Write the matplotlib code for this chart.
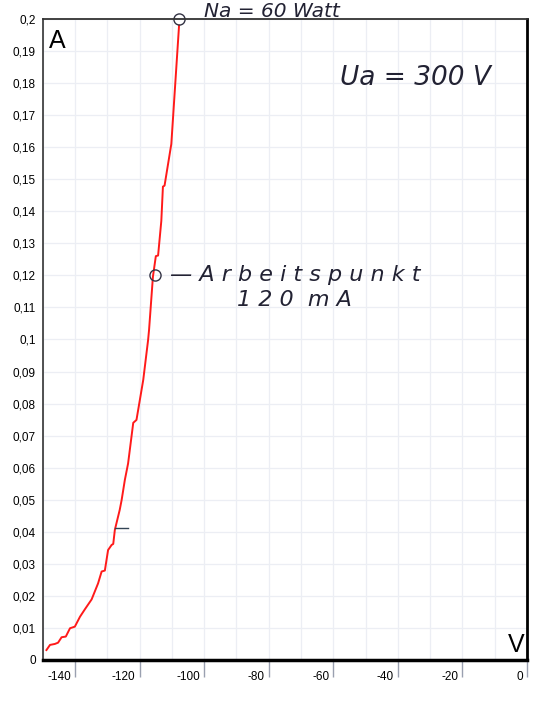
import matplotlib
matplotlib.use("Agg")
import matplotlib.pyplot as plt
import matplotlib.transforms as mtrans
from matplotlib.ticker import MultipleLocator, FuncFormatter

# Data (grid voltage V, anode current A)
voltage = [-148.9, -147.8, -146.3, -145.3, -144.2, -142.9, -141.6, -140.1, -138.5,
           -137.0, -134.9, -132.9, -131.8, -130.8, -129.8, -128.7, -128.2, -127.7,
           -126.2, -125.6, -124.6, -123.6, -122.0, -121.0, -118.9, -117.4, -117.1,
           -115.9, -115.0, -114.3, -113.3, -112.8, -112.3, -110.2, -107.8]
current = [0.0031, 0.0047, 0.0050, 0.0054, 0.0071, 0.0073, 0.0099, 0.0104, 0.0135,
           0.0158, 0.0189, 0.0239, 0.0276, 0.0279, 0.0343, 0.0359, 0.0362, 0.0406,
           0.0468, 0.0499, 0.0562, 0.0613, 0.0740, 0.0749, 0.0874, 0.0998, 0.1030,
           0.1196, 0.1260, 0.1262, 0.1370, 0.1477, 0.1480, 0.1610, 0.1980]
marker_v = [-107.9, -115.3]
marker_i = [0.200, 0.120]
x_ticks = [-140, -120, -100, -80, -60, -40, -20, 0]

plt.rcParams['font.family'] = ['Liberation Sans', 'DejaVu Sans']

fig = plt.figure(figsize=(5.5, 7.03), dpi=100)
ax = fig.add_axes([0.078, 0.0612, 0.880, 0.9118])
ax.set_xlim(-150, 0)
ax.set_ylim(0, 0.2)

ax.xaxis.set_major_locator(MultipleLocator(20))
ax.xaxis.set_minor_locator(MultipleLocator(10))
ax.yaxis.set_major_locator(MultipleLocator(0.01))
ax.grid(which='both', color='#eceef4', linewidth=0.9)
ax.set_axisbelow(True)

ax.set_xticks(x_ticks)
ax.xaxis.set_major_formatter(FuncFormatter(lambda v, p: f"{int(v)}"))
ax.yaxis.set_major_formatter(FuncFormatter(
    lambda v, p: "0" if abs(v) < 1e-9 else f"{v:.2f}".rstrip('0').replace('.', ',')))
ax.tick_params(axis='x', which='major', direction='out', length=12, width=1,
               color='#9aa0b0', labelsize=8.5, pad=-10)
for lab in ax.get_xticklabels():
    lab.set_horizontalalignment('right')
offset = mtrans.ScaledTranslation(-3 / 72, -6 / 72, fig.dpi_scale_trans)
for lab in ax.xaxis.get_majorticklabels():
    lab.set_transform(lab.get_transform() + offset)
ax.tick_params(axis='x', which='minor', length=0)
ax.tick_params(axis='y', length=0, labelsize=8.5, pad=5)

for s, w, c in [('left', 1.2, '#333333'), ('bottom', 2.5, '#000000'),
                ('top', 1.3, '#333333'), ('right', 2.0, '#000000')]:
    ax.spines[s].set_linewidth(w)
    ax.spines[s].set_color(c)

ax.plot(voltage, current, color='#ff1a1a', linewidth=1.4)
ax.plot(marker_v, marker_i, linestyle='none', marker='o', markersize=8,
        markerfacecolor='none', markeredgecolor='#333344', markeredgewidth=1.0,
        clip_on=False)

ax.plot([-127.8, -123.5], [0.0412, 0.0412], color='#334455', linewidth=1.0)

ax.text(0.012, 0.985, "A", transform=ax.transAxes, fontsize=18, va='top', ha='left')
ax.text(0.995, 0.005, "V", transform=ax.transAxes, fontsize=18, va='bottom', ha='right')

hand = dict(color='#222233', fontstyle='italic', family=['DejaVu Sans'])
ax.text(-79, 0.2022, "Na = 60 Watt", fontsize=14.5, ha='center', va='center',
        clip_on=False, **hand)
ax.text(-34.5, 0.1816, "Ua = 300 V", fontsize=19, ha='center', va='center', **hand)
ax.text(-110.5, 0.120, "— A r b e i t s p u n k t", fontsize=16, ha='left',
        va='center', **hand)
ax.text(-72, 0.1123, "1 2 0  m A", fontsize=16, ha='center', va='center', **hand)

fig.savefig("out.png", dpi=100)
